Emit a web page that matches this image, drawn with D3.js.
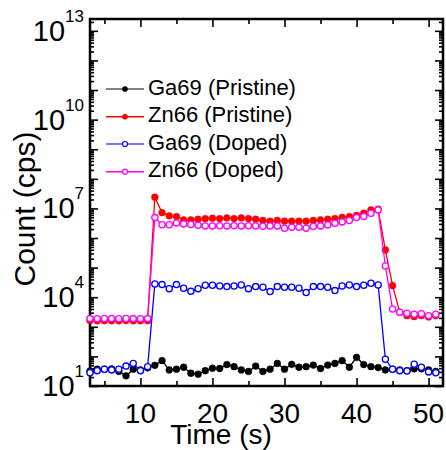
<!DOCTYPE html>
<html>
<head>
<meta charset="utf-8">
<script src="https://cdn.jsdelivr.net/npm/d3@7"></script>
<style>
  body { margin: 0; background: #fff; }
  text { font-family: "Liberation Sans", Arial, Helvetica, sans-serif; fill: #000; }
</style>
</head>
<body>
<svg id="chart" width="446" height="450"></svg>
<script>
// Sputter time (s)
const time = [3,4,5,6,7,8,9,10,11,12,13,14,15,16,17,18,19,20,21,22,23,24,25,26,27,
              28,29,30,31,32,33,34,35,36,37,38,39,40,41,42,43,44,45,46,47,48,49,50,51];

// Count rates (cps) per isotope and sample
const ga69Pristine = [32,37,37,38,31,22,37,35,41,50,72,35,37,43,27,25,33,40,39,53,45,35,31,47,31,
                      37,58,37,54,43,45,51,39,51,58,72,43,93,53,45,42,35,37,35,33,38,38,35,31];
const zn66Pristine = [1620,1600,1610,1590,1600,1620,1600,1590,1610,
                      2.4e7,7.2e6,5.6e6,5.3e6,4.1e6,4.1e6,4.3e6,4.5e6,4.67e6,4.54e6,4.79e6,4.54e6,
                      4.79e6,4.54e6,4.3e6,3.9e6,3.7e6,3.9e6,3.7e6,3.7e6,3.7e6,3.7e6,3.9e6,4.1e6,
                      4.3e6,4.54e6,5.0e6,5.3e6,5.8e6,6.9e6,8.9e6,9.4e6,
                      3.96e5,24600,3090,2380,2200,2380,2150,2380];
const ga69Doped = [28,33,37,35,37,47,58,33,45,
                   28000,26700,19500,26700,20000,15800,19500,25300,25300,24000,22800,24000,26000,
                   19500,22800,21700,15500,22800,21700,21700,20000,14300,22800,22800,21700,16700,
                   24000,26000,22800,25300,29600,26000,
                   80,37,33,32,54,43,30,28];
const zn66Doped = [1890,1880,1900,1890,1880,1900,1890,1880,1890,
                   4.9e6,2.8e6,2.8e6,3.2e6,3.0e6,2.85e6,2.7e6,2.57e6,
                   2.57e6,2.6e6,2.57e6,2.6e6,2.57e6,2.6e6,2.57e6,2.5e6,2.57e6,
                   2.57e6,2.14e6,2.3e6,2.3e6,2.14e6,2.44e6,2.57e6,2.77e6,3.15e6,3.5e6,3.9e6,
                   4.9e6,5.3e6,6.9e6,8.9e6,
                   1.14e5,4000,3090,2860,2650,2750,2380,2650];

const seriesNames = ["Ga69 (Pristine)", "Zn66 (Pristine)", "Ga69 (Doped)", "Zn66 (Doped)"];
const seriesValues = [ga69Pristine, zn66Pristine, ga69Doped, zn66Doped];
const seriesColors = ["#000000", "#ff0000", "#0000ff", "#ff00ff"];
const seriesFilled = [true, true, false, false];

// Axis ticks
const xMajorTicks = [10, 20, 30, 40, 50];
const xMinorTicks = [5, 15, 25, 35, 45];
const yLabelExponents = [1, 4, 7, 10, 13];

(function draw() {
  const svg = d3.select("#chart");
  const pLeft = 90, pRight = 443, pTop = 19, pBottom = 386;

  const x = d3.scaleLinear().domain([3, 52]).range([pLeft, pRight]);
  const y = d3.scaleLog().domain([10, Math.pow(10, 13.4)]).range([pBottom, pTop]);

  // Log ticks: decades and the 2..9 subdivisions inside the domain
  const [yMin, yMax] = y.domain();
  const yDecades = [], ySubs = [];
  for (let e = 1; e <= 13; e++) {
    for (let k = 1; k <= 9; k++) {
      const v = k * Math.pow(10, e);
      if (v < yMin || v > yMax) continue;
      (k === 1 ? yDecades : ySubs).push(v);
    }
  }

  function tickLayer(axis, transform) {
    const g = svg.append("g").attr("transform", transform).call(axis);
    g.select(".domain").remove();
    g.selectAll(".tick line").attr("stroke", "#000").attr("stroke-width", 1.6);
    g.selectAll(".tick text").remove();
    return g;
  }

  // Inward ticks on all four sides
  tickLayer(d3.axisBottom(x).tickValues(xMajorTicks).tickSize(-8), `translate(0,${pBottom})`);
  tickLayer(d3.axisBottom(x).tickValues(xMinorTicks).tickSize(-5), `translate(0,${pBottom})`);
  tickLayer(d3.axisTop(x).tickValues(xMajorTicks).tickSize(-8), `translate(0,${pTop})`);
  tickLayer(d3.axisTop(x).tickValues(xMinorTicks).tickSize(-5), `translate(0,${pTop})`);
  tickLayer(d3.axisLeft(y).tickValues(yDecades).tickSize(-8), `translate(${pLeft},0)`);
  tickLayer(d3.axisLeft(y).tickValues(ySubs).tickSize(-4), `translate(${pLeft},0)`);
  tickLayer(d3.axisRight(y).tickValues(yDecades).tickSize(-8), `translate(${pRight},0)`);
  tickLayer(d3.axisRight(y).tickValues(ySubs).tickSize(-4), `translate(${pRight},0)`);

  // Plot frame
  svg.append("rect")
    .attr("x", pLeft).attr("y", pTop)
    .attr("width", pRight - pLeft).attr("height", pBottom - pTop)
    .attr("fill", "none").attr("stroke", "#000").attr("stroke-width", 2.5);

  // X tick labels
  svg.append("g").selectAll("text").data(xMajorTicks).join("text")
    .attr("x", d => x(d)).attr("y", 423)
    .attr("text-anchor", "middle").attr("font-size", 28)
    .text(d => d);

  // Y tick labels as powers of ten
  const yl = svg.append("g").selectAll("text").data(yLabelExponents).join("text")
    .attr("x", 84).attr("y", d => y(Math.pow(10, d)) + 10)
    .attr("text-anchor", "end").attr("font-size", 29);
  yl.append("tspan").text("10");
  yl.append("tspan").attr("font-size", 17).attr("dy", -19).text(d => d);

  // Axis titles
  svg.append("text")
    .attr("x", 221).attr("y", 444)
    .attr("text-anchor", "middle").attr("font-size", 28)
    .text("Time (s)");
  svg.append("text")
    .attr("transform", "translate(35,209) rotate(-90)")
    .attr("text-anchor", "middle").attr("font-size", 30)
    .text("Count (cps)");

  // Data lines and markers
  const line = d3.line().x((d, i) => x(time[i])).y(d => y(d));
  const plot = svg.append("g");
  seriesValues.forEach((vals, s) => {
    plot.append("path")
      .datum(vals)
      .attr("d", line)
      .attr("fill", "none")
      .attr("stroke", seriesColors[s])
      .attr("stroke-width", 1.3);
    plot.append("g").selectAll("circle").data(vals).join("circle")
      .attr("cx", (d, i) => x(time[i]))
      .attr("cy", d => y(d))
      .attr("r", seriesFilled[s] ? 3.4 : 3.1)
      .attr("fill", seriesFilled[s] ? seriesColors[s] : "#fff")
      .attr("stroke", seriesColors[s])
      .attr("stroke-width", seriesFilled[s] ? 0.5 : 1.3);
  });

  // Legend
  const legendRows = [89, 116.7, 144, 171.7];
  const legend = svg.append("g");
  seriesNames.forEach((name, s) => {
    const ly = legendRows[s];
    legend.append("line")
      .attr("x1", 106).attr("x2", 144).attr("y1", ly).attr("y2", ly)
      .attr("stroke", seriesColors[s]).attr("stroke-width", 1.5)
      .attr("stroke-opacity", s === 0 ? 0.65 : (s === 2 ? 0.7 : 1));
    legend.append("circle")
      .attr("cx", 125).attr("cy", ly)
      .attr("r", seriesFilled[s] ? 2.6 : 2.5)
      .attr("fill", seriesFilled[s] ? seriesColors[s] : "#fff")
      .attr("stroke", seriesColors[s])
      .attr("stroke-width", seriesFilled[s] ? 0.5 : 1.2);
    legend.append("text")
      .attr("x", 148).attr("y", ly + 5.5)
      .attr("font-size", 22)
      .text(name);
  });
})();
</script>
</body>
</html>
